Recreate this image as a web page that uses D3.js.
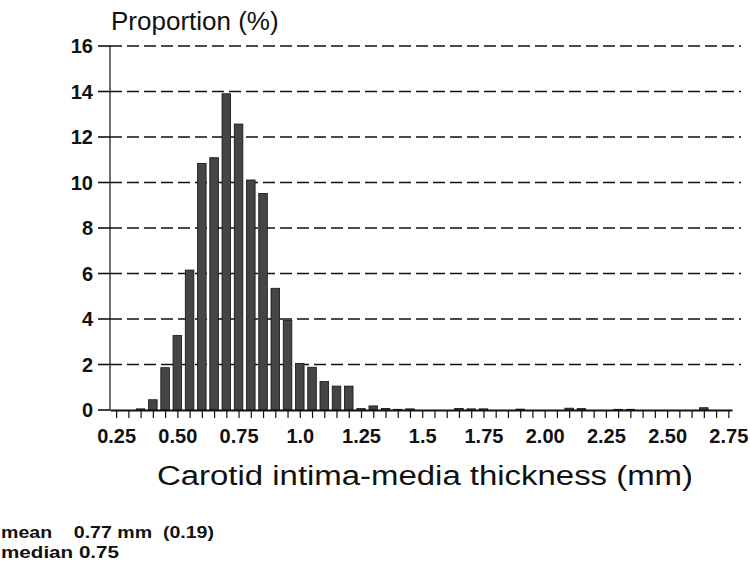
<!DOCTYPE html>
<html>
<head>
<meta charset="utf-8">
<script src="https://cdn.jsdelivr.net/npm/d3@7"></script>
<style>
	body { margin: 0; background: #ffffff; }
	svg { display: block; }
</style>
</head>
<body>
<div id="chart"></div>
<script>
// bin centres (mm) and proportion (%)
var binCenters = [0.35, 0.40, 0.45, 0.50, 0.55, 0.60, 0.65, 0.70, 0.75, 0.80,
                  0.85, 0.90, 0.95, 1.00, 1.05, 1.10, 1.15, 1.20, 1.25, 1.30,
                  1.35, 1.40, 1.45, 1.65, 1.70, 1.75, 1.90, 2.10, 2.15, 2.30,
                  2.35, 2.65];
var proportions = [0.05, 0.45, 1.86, 3.28, 6.15, 10.84, 11.09, 13.9, 12.57, 10.11,
                   9.52, 5.35, 3.93, 2.05, 1.88, 1.25, 1.05, 1.05, 0.06, 0.18,
                   0.07, 0.03, 0.05, 0.07, 0.05, 0.05, 0.04, 0.08, 0.06, 0.03,
                   0.03, 0.1];

var xTickLabels = ["0.25", "0.50", "0.75", "1.0", "1.25", "1.5", "1.75", "2.00", "2.25", "2.50", "2.75"];
var yTicks = [0, 2, 4, 6, 8, 10, 12, 14, 16];

// summary lines under the chart, with the width each one takes
var statLines = ["mean    0.77 mm  (0.19)", "median 0.75"];
var statWidths = [213, 118];

function Histogram(options)
{
	var _defaultOpts = {
		el: "#chart",
		elWidth: 750,
		elHeight: 564,
		left: 110,
		right: 732,
		top: 46,
		bottom: 410,
		gridRight: 741,
		barWidth: 0.035,  // in mm
		barColor: "#454545",
		barStroke: "#111111",
		font: "'Liberation Sans', Arial, Helvetica, sans-serif"
	};

	var _options = Object.assign({}, _defaultOpts, options);

	function init()
	{
		var svg = d3.select(_options.el).append("svg")
			.attr("width", _options.elWidth)
			.attr("height", _options.elHeight);

		var x = d3.scaleLinear()
			.domain([0.225, 2.765])
			.range([_options.left, _options.right]);

		var y = d3.scaleLinear()
			.domain([0, 16])
			.range([_options.bottom, _options.top]);

		drawGrid(svg, x, y);
		drawBars(svg, x, y);
		drawAxes(svg, x, y);
		drawTexts(svg, x);
	}

	function drawGrid(svg, x, y)
	{
		// dashed horizontal lines, short solid tick on the left
		var g = svg.append("g");

		g.selectAll("line.grid")
			.data(yTicks.filter(function(d) { return d > 0; }))
			.enter().append("line")
			.attr("class", "grid")
			.attr("x1", _options.left)
			.attr("x2", _options.gridRight)
			.attr("y1", function(d) { return y(d); })
			.attr("y2", function(d) { return y(d); })
			.attr("stroke", "#111")
			.attr("stroke-width", 1.6)
			.attr("stroke-dasharray", "12,5");

		g.selectAll("line.ytick")
			.data(yTicks)
			.enter().append("line")
			.attr("class", "ytick")
			.attr("x1", _options.left - 12)
			.attr("x2", _options.left)
			.attr("y1", function(d) { return y(d); })
			.attr("y2", function(d) { return y(d); })
			.attr("stroke", "#111")
			.attr("stroke-width", 1.6);

		g.selectAll("text.ylab")
			.data(yTicks)
			.enter().append("text")
			.attr("class", "ylab")
			.attr("x", _options.left - 17)
			.attr("y", function(d) { return y(d) + 7; })
			.attr("text-anchor", "end")
			.attr("fill", "#111")
			.style("font-family", _options.font)
			.style("font-size", "20px")
			.style("font-weight", "bold")
			.text(function(d) { return d; });
	}

	function drawBars(svg, x, y)
	{
		var w = x(_options.barWidth) - x(0);
		var data = binCenters.map(function(c, i) { return { c: c, v: proportions[i] }; });

		svg.append("g").selectAll("rect")
			.data(data)
			.enter().append("rect")
			.attr("x", function(d) { return x(d.c) - w / 2; })
			.attr("y", function(d) { return y(d.v); })
			.attr("width", w)
			.attr("height", function(d) { return y(0) - y(d.v); })
			.attr("fill", _options.barColor)
			.attr("stroke", _options.barStroke)
			.attr("stroke-width", 0.8);
	}

	function drawAxes(svg, x, y)
	{
		// vertical axis line
		svg.append("line")
			.attr("x1", _options.left)
			.attr("x2", _options.left)
			.attr("y1", y(0))
			.attr("y2", y(16))
			.attr("stroke", "#111")
			.attr("stroke-width", 1.2);

		// bottom axis: minor ticks every 0.05, labels every 0.25
		var tickVals = d3.range(0, 51).map(function(i) { return +(0.25 + i * 0.05).toFixed(2); });
		var labelVals = xTickLabels.map(function(s) { return +s; });

		var axis = d3.axisBottom(x)
			.tickValues(tickVals)
			.tickSize(8)
			.tickSizeOuter(0)
			.tickFormat(function(d) {
				var k = labelVals.indexOf(d);
				return k >= 0 ? xTickLabels[k] : "";
			});

		var g = svg.append("g")
			.attr("transform", "translate(0," + y(0) + ")")
			.call(axis);

		g.select(".domain")
			.attr("stroke", "#111")
			.attr("stroke-width", 2);
		g.selectAll(".tick line")
			.attr("stroke", "#111")
			.attr("stroke-width", 1.2);
		g.selectAll(".tick text")
			.attr("y", 19)
			.attr("fill", "#111")
			.style("font-family", _options.font)
			.style("font-size", "20px")
			.style("font-weight", "bold");
	}

	function drawTexts(svg, x)
	{
		svg.append("text")
			.attr("x", 111)
			.attr("y", 30)
			.attr("fill", "#111")
			.style("font-family", _options.font)
			.style("font-size", "26px")
			.text("Proportion (%)");

		svg.append("text")
			.attr("x", 157)
			.attr("y", 485)
			.attr("textLength", 536)
			.attr("lengthAdjust", "spacingAndGlyphs")
			.attr("fill", "#111")
			.style("font-family", _options.font)
			.style("font-size", "27px")
			.text("Carotid intima-media thickness (mm)");

		svg.selectAll("text.stat")
			.data(statLines)
			.enter().append("text")
			.attr("class", "stat")
			.attr("x", 1)
			.attr("y", function(d, i) { return 538 + i * 20; })
			.attr("textLength", function(d, i) { return statWidths[i]; })
			.attr("lengthAdjust", "spacingAndGlyphs")
			.attr("xml:space", "preserve")
			.attr("fill", "#111")
			.style("white-space", "pre")
			.style("font-family", _options.font)
			.style("font-size", "16px")
			.style("font-weight", "bold")
			.text(function(d) { return d; });
	}

	this.init = init;
}

new Histogram({}).init();
</script>
</body>
</html>
